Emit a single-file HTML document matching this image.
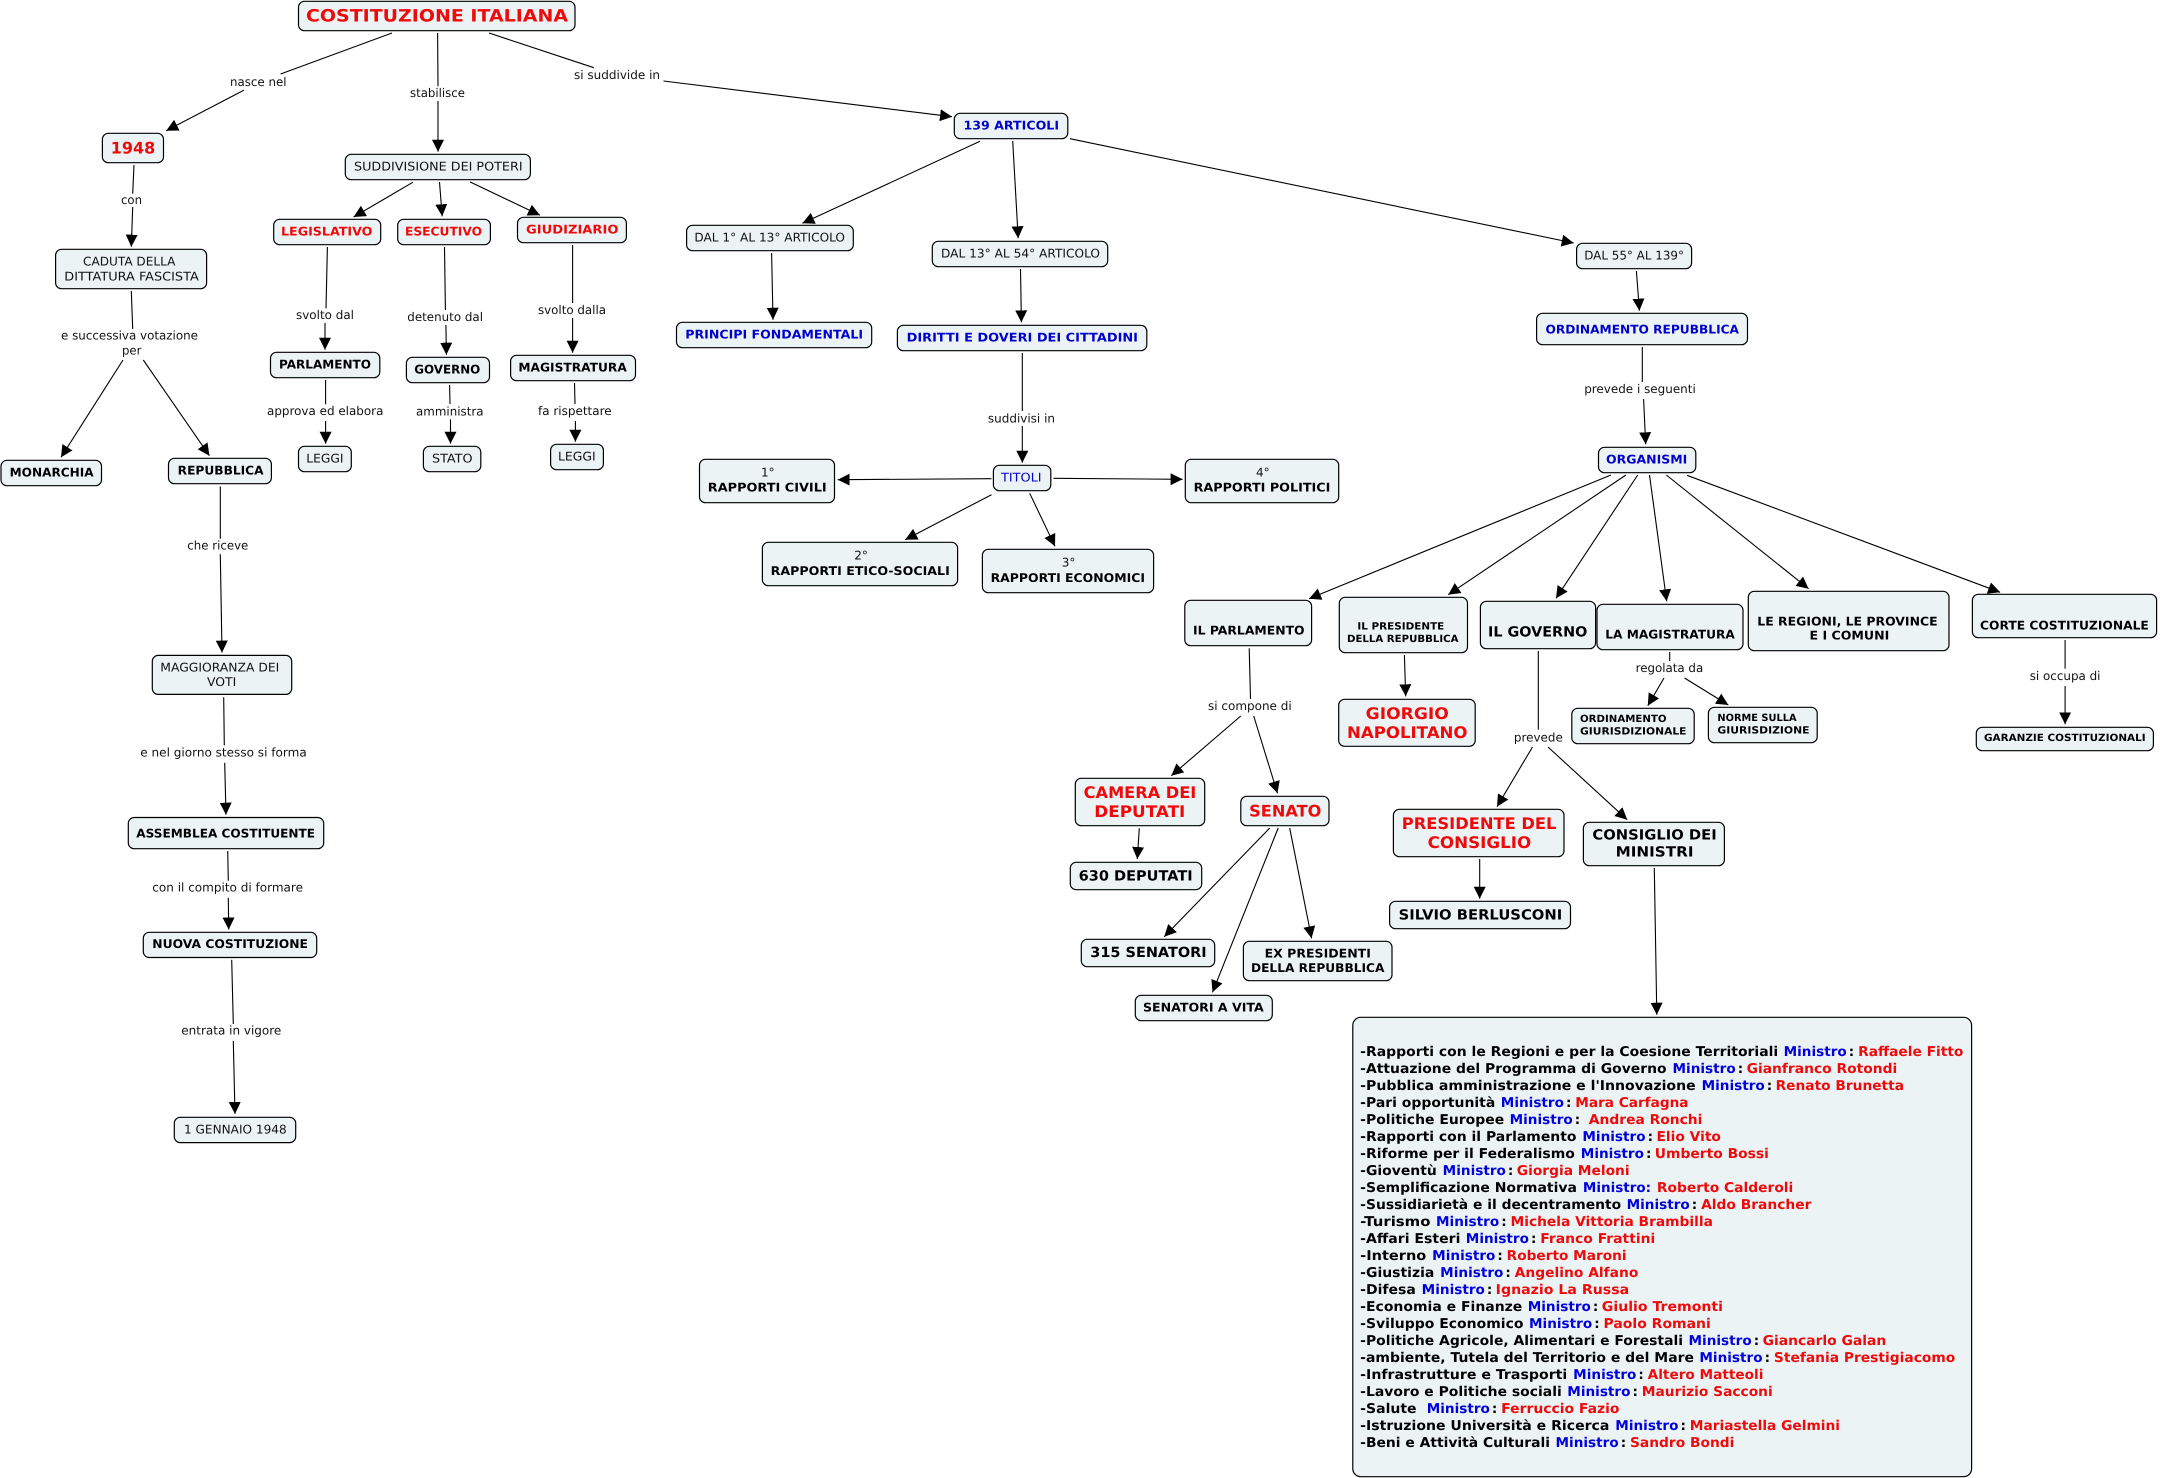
<!DOCTYPE html>
<html lang="it"><head><meta charset="utf-8"><title>Costituzione Italiana</title>
<style>
html,body{margin:0;padding:0;background:#fff}
svg{display:block}
text{font-family:"DejaVu Sans","Liberation Sans",sans-serif;dominant-baseline:central;fill:#111;text-rendering:geometricPrecision}
.r{font-size:12px}.b{font-size:12px;font-weight:bold;fill:#000}
.s{font-size:10px;font-weight:bold;fill:#000}.m{font-size:14px;font-weight:bold;fill:#000}
.l{font-size:16px;font-weight:bold;fill:#000}.t{font-size:17px;font-weight:bold}
.R{fill:#ee0a0a}.B{fill:#0000cc}
.c,.k,.e{font-size:13.5px;font-weight:bold}
.c{fill:#000}.k{fill:#0000dd}.e{fill:#ee0a0a}
rect{fill:#ecf3f5;stroke:#000;stroke-width:1.2}
line{stroke:#000;stroke-width:1.1}
line.a{marker-end:url(#h)}
</style></head><body>
<svg width="2160" height="1478" viewBox="0 0 2160 1478" xmlns="http://www.w3.org/2000/svg">
<defs><marker id="h" markerUnits="userSpaceOnUse" markerWidth="14" markerHeight="14" refX="12" refY="7" orient="auto"><path d="M0,1 L12,7 L0,13 Z" fill="#000"/></marker></defs>

<g>
<line x1="392" y1="33" x2="280.6" y2="74"/><line class="a" x1="243.8" y1="90.3" x2="166.2" y2="130.7"/>
<line x1="437.6" y1="33" x2="438" y2="86.3"/><line class="a" x1="438" y1="101" x2="438" y2="151.7"/>
<line x1="489" y1="33" x2="593.8" y2="67.7"/><line class="a" x1="663.5" y1="81" x2="952" y2="116.7"/>
<line x1="134" y1="165" x2="132.7" y2="193.7"/><line class="a" x1="132.7" y1="207" x2="131.3" y2="246.7"/>
<line x1="131.3" y1="291" x2="132.7" y2="329"/>
<line class="a" x1="123" y1="360" x2="61" y2="457.3"/><line class="a" x1="143.3" y1="360" x2="209.4" y2="455.7"/>
<line class="a" x1="412.8" y1="182.3" x2="353.6" y2="217"/><line class="a" x1="439.5" y1="182" x2="442.2" y2="216.3"/><line class="a" x1="470.2" y1="182" x2="540" y2="215.3"/>
<line x1="327.4" y1="247" x2="326" y2="308.3"/><line class="a" x1="325" y1="323" x2="325" y2="349.7"/>
<line x1="444.5" y1="247" x2="445.4" y2="310"/><line class="a" x1="445.9" y1="325" x2="446.4" y2="354.7"/>
<line x1="572.6" y1="245" x2="572.6" y2="303"/><line class="a" x1="572.6" y1="318" x2="572.6" y2="352.7"/>
<line x1="325.6" y1="380" x2="325.6" y2="404.3"/><line class="a" x1="325.6" y1="421" x2="325.6" y2="443.7"/>
<line x1="449.6" y1="385" x2="450" y2="404"/><line class="a" x1="450.5" y1="419.3" x2="450.5" y2="443.7"/>
<line x1="574.5" y1="383" x2="575" y2="404"/><line class="a" x1="575.4" y1="421" x2="575.4" y2="441.7"/>
<line class="a" x1="980" y1="141.3" x2="802.4" y2="223.3"/><line class="a" x1="1012.7" y1="141" x2="1018.2" y2="238.3"/><line class="a" x1="1070" y1="138.7" x2="1573.7" y2="243"/>
<line class="a" x1="771.6" y1="253" x2="773" y2="319.7"/><line class="a" x1="1020.5" y1="269" x2="1021.4" y2="322.3"/>
<line x1="1022.3" y1="353" x2="1022.3" y2="411"/><line class="a" x1="1022.3" y1="426" x2="1022.3" y2="462.7"/>
<line class="a" x1="991.5" y1="478.7" x2="837.7" y2="479.7"/><line class="a" x1="1053.5" y1="478.3" x2="1182.6" y2="479.3"/>
<line class="a" x1="991.5" y1="494.7" x2="905.2" y2="539.7"/><line class="a" x1="1029.7" y1="493.3" x2="1055" y2="546.3"/>
<line class="a" x1="1636.4" y1="271" x2="1639.4" y2="310.7"/>
<line x1="1642.3" y1="347" x2="1642.3" y2="382"/><line class="a" x1="1643.6" y1="399" x2="1645.7" y2="444.3"/>
<line class="a" x1="1611" y1="475" x2="1309" y2="598.7"/><line class="a" x1="1625.9" y1="475" x2="1448.2" y2="594.7"/>
<line class="a" x1="1637.7" y1="475" x2="1556" y2="598.3"/><line class="a" x1="1649.5" y1="475" x2="1666.7" y2="601.3"/>
<line class="a" x1="1666.3" y1="475" x2="1808.6" y2="588.7"/><line class="a" x1="1687" y1="475.3" x2="2000.1" y2="592.3"/>
<line x1="1249.2" y1="648.3" x2="1250.5" y2="699"/><line class="a" x1="1240.8" y1="716" x2="1171.3" y2="775.7"/><line class="a" x1="1253.7" y1="716" x2="1277.5" y2="793.3"/>
<line class="a" x1="1404.4" y1="655" x2="1405.7" y2="696.3"/>
<line x1="1538.3" y1="651" x2="1538.3" y2="729.7"/><line class="a" x1="1532.5" y1="747" x2="1497" y2="806.7"/><line class="a" x1="1548" y1="747" x2="1627.2" y2="819.7"/>
<line x1="1669.7" y1="652" x2="1669.7" y2="661"/><line class="a" x1="1664" y1="678" x2="1647.8" y2="705.7"/><line class="a" x1="1684.5" y1="678" x2="1728.3" y2="705"/>
<line x1="2065.1" y1="640" x2="2065.1" y2="668.7"/><line class="a" x1="2065.1" y1="686" x2="2065.1" y2="724.3"/>
<line class="a" x1="1479.7" y1="859" x2="1479.7" y2="898.7"/><line class="a" x1="1654.3" y1="868" x2="1656.8" y2="1014.7"/>
<line class="a" x1="1139.3" y1="828.3" x2="1137.3" y2="859"/>
<line class="a" x1="1269.8" y1="828" x2="1164.2" y2="936.7"/><line class="a" x1="1278.2" y1="828" x2="1212.5" y2="992.3"/><line class="a" x1="1289.7" y1="828" x2="1311.6" y2="938.3"/>
<line x1="220.3" y1="486.4" x2="220.3" y2="538.7"/><line class="a" x1="220.3" y1="554.3" x2="222" y2="652.6"/>
<line x1="223.7" y1="697.2" x2="224.3" y2="745.4"/><line class="a" x1="224.7" y1="762.8" x2="226" y2="814.7"/>
<line x1="227.7" y1="851" x2="228.3" y2="880.8"/><line class="a" x1="228.3" y1="897.8" x2="228.7" y2="929.5"/>
<line x1="231.7" y1="959.8" x2="233.3" y2="1024"/><line class="a" x1="233.3" y1="1041" x2="235" y2="1114"/>
</g>

<g>
<rect x="298.5" y="1.3" width="276.5" height="29.4" rx="6"/>
<rect x="102.4" y="133.3" width="61.1" height="29.4" rx="6"/>
<rect x="345.3" y="154.3" width="185.1" height="25.4" rx="6"/>
<rect x="273.7" y="219.3" width="107" height="25.4" rx="6"/>
<rect x="397.7" y="219.3" width="92.7" height="25.4" rx="6"/>
<rect x="517.5" y="217.3" width="108.9" height="25.4" rx="6"/>
<rect x="55.6" y="249.3" width="151" height="39.4" rx="6"/>
<rect x="270.5" y="352.3" width="109.3" height="25.4" rx="6"/>
<rect x="406.4" y="357.3" width="83.1" height="25.4" rx="6"/>
<rect x="510.6" y="355.3" width="124.9" height="25.4" rx="6"/>
<rect x="298.5" y="446.3" width="52.8" height="25.4" rx="6"/>
<rect x="423.4" y="446.3" width="57.4" height="25.4" rx="6"/>
<rect x="550.6" y="444.3" width="52.8" height="25.4" rx="6"/>
<rect x="1" y="460.3" width="100.5" height="25.4" rx="6"/>
<rect x="168.5" y="458.3" width="102.9" height="25.4" rx="6"/>
<rect x="152.3" y="655.4" width="139.4" height="39" rx="6"/>
<rect x="128.3" y="817.5" width="195.4" height="31.2" rx="6"/>
<rect x="143.3" y="932.3" width="173.4" height="25.2" rx="6"/>
<rect x="174.3" y="1117.3" width="121.4" height="25.3" rx="6"/>
<rect x="954.3" y="113.3" width="113.5" height="25.4" rx="6"/>
<rect x="686.6" y="225.3" width="166.7" height="25.4" rx="6"/>
<rect x="932.3" y="241.3" width="175.4" height="25.4" rx="6"/>
<rect x="1576.6" y="243.3" width="115" height="25.4" rx="6"/>
<rect x="676.5" y="322.3" width="195.2" height="25.4" rx="6"/>
<rect x="897.4" y="325.3" width="249.4" height="25.4" rx="6"/>
<rect x="1536.6" y="313.3" width="210.9" height="31.4" rx="6"/>
<rect x="993.4" y="465.3" width="57.4" height="25.4" rx="6"/>
<rect x="1598.5" y="447.3" width="97.3" height="25.4" rx="6"/>
<rect x="699.5" y="459.3" width="135" height="43.4" rx="6"/>
<rect x="1185.3" y="459.3" width="153.4" height="43.4" rx="6"/>
<rect x="762.4" y="542.3" width="195.2" height="43.4" rx="6"/>
<rect x="982.4" y="549.3" width="171.2" height="43.4" rx="6"/>
<rect x="1184.8" y="600.3" width="126.8" height="45.4" rx="6"/>
<rect x="1339.3" y="597.3" width="128.2" height="55.4" rx="6"/>
<rect x="1480.4" y="601.3" width="115.2" height="47.4" rx="6"/>
<rect x="1597" y="604.3" width="146" height="45.4" rx="6"/>
<rect x="1748.3" y="591.3" width="200.7" height="59.4" rx="6"/>
<rect x="1972.4" y="594.3" width="184.2" height="43.4" rx="6"/>
<rect x="1338.7" y="699.3" width="136.5" height="47" rx="6"/>
<rect x="1571.8" y="708.3" width="122.4" height="35.4" rx="6"/>
<rect x="1708.4" y="707.3" width="108.8" height="35.4" rx="6"/>
<rect x="1976.3" y="727.3" width="177.1" height="23.4" rx="6"/>
<rect x="1240.8" y="796.3" width="88.2" height="29.4" rx="6"/>
<rect x="1075.3" y="778.3" width="129.4" height="47.4" rx="6"/>
<rect x="1070.3" y="862.3" width="131.4" height="27.4" rx="6"/>
<rect x="1393.4" y="809.3" width="170.6" height="47.4" rx="6"/>
<rect x="1583.4" y="822.3" width="141" height="43.4" rx="6"/>
<rect x="1389.6" y="901.3" width="180.9" height="27.4" rx="6"/>
<rect x="1243.4" y="941.3" width="148.6" height="39.4" rx="6"/>
<rect x="1081.3" y="939.3" width="133.4" height="27.4" rx="6"/>
<rect x="1135.3" y="995.3" width="137" height="25.4" rx="6"/>
<rect x="1352.8" y="1017.3" width="618.8" height="459.4" rx="8"/>
</g>

<g>
<text class="t R" x="306" y="16.7" textLength="262" lengthAdjust="spacingAndGlyphs">COSTITUZIONE ITALIANA</text>
<text class="l R" x="110.7" y="148" textLength="44.5" lengthAdjust="spacingAndGlyphs">1948</text>
<text class="r" x="354" y="166.7" textLength="168.6" lengthAdjust="spacingAndGlyphs">SUDDIVISIONE DEI POTERI</text>
<text class="b R" x="281" y="231.7" textLength="91.4" lengthAdjust="spacingAndGlyphs">LEGISLATIVO</text>
<text class="b R" x="405" y="231.7" textLength="77" lengthAdjust="spacingAndGlyphs">ESECUTIVO</text>
<text class="b R" x="526" y="229.7" textLength="92.5" lengthAdjust="spacingAndGlyphs">GIUDIZIARIO</text>
<text class="r" x="83" y="261.7" textLength="92.4" lengthAdjust="spacingAndGlyphs">CADUTA DELLA</text>
<text class="r" x="64.3" y="276.3" textLength="134.5" lengthAdjust="spacingAndGlyphs">DITTATURA FASCISTA</text>
<text class="b" x="279" y="364.7" textLength="92" lengthAdjust="spacingAndGlyphs">PARLAMENTO</text>
<text class="b" x="414.2" y="369.7" textLength="66.1" lengthAdjust="spacingAndGlyphs">GOVERNO</text>
<text class="b" x="518.4" y="367.7" textLength="108.4" lengthAdjust="spacingAndGlyphs">MAGISTRATURA</text>
<text class="r" x="306.3" y="458.7" textLength="37.2" lengthAdjust="spacingAndGlyphs">LEGGI</text>
<text class="r" x="432" y="458.7" textLength="40.5" lengthAdjust="spacingAndGlyphs">STATO</text>
<text class="r" x="558" y="456.7" textLength="37.6" lengthAdjust="spacingAndGlyphs">LEGGI</text>
<text class="b" x="9.6" y="472.7" textLength="84.1" lengthAdjust="spacingAndGlyphs">MONARCHIA</text>
<text class="b" x="177.7" y="470.7" textLength="85.9" lengthAdjust="spacingAndGlyphs">REPUBBLICA</text>
<text class="r" x="160.3" y="667.3" textLength="119" lengthAdjust="spacingAndGlyphs">MAGGIORANZA DEI</text>
<text class="r" x="207" y="682" textLength="29.3" lengthAdjust="spacingAndGlyphs">VOTI</text>
<text class="b" x="136.3" y="833.5" textLength="178.7" lengthAdjust="spacingAndGlyphs">ASSEMBLEA COSTITUENTE</text>
<text class="b" x="152.3" y="944.2" textLength="155.7" lengthAdjust="spacingAndGlyphs">NUOVA COSTITUZIONE</text>
<text class="r" x="184" y="1129.3" textLength="102.7" lengthAdjust="spacingAndGlyphs">1 GENNAIO 1948</text>
<text class="b B" x="963.5" y="125.7" textLength="95.5" lengthAdjust="spacingAndGlyphs">139 ARTICOLI</text>
<text class="r" x="694.4" y="237.7" textLength="150.6" lengthAdjust="spacingAndGlyphs">DAL 1° AL 13° ARTICOLO</text>
<text class="r" x="941" y="253.7" textLength="159" lengthAdjust="spacingAndGlyphs">DAL 13° AL 54° ARTICOLO</text>
<text class="r" x="1584.2" y="255.7" textLength="99.8" lengthAdjust="spacingAndGlyphs">DAL 55° AL 139°</text>
<text class="b B" x="685.3" y="334.7" textLength="177.7" lengthAdjust="spacingAndGlyphs">PRINCIPI FONDAMENTALI</text>
<text class="b B" x="906.6" y="337.7" textLength="231.4" lengthAdjust="spacingAndGlyphs">DIRITTI E DOVERI DEI CITTADINI</text>
<text class="b B" x="1545.5" y="329.7" textLength="193.5" lengthAdjust="spacingAndGlyphs">ORDINAMENTO REPUBBLICA</text>
<text class="r B" x="1001" y="477.7" textLength="40.6" lengthAdjust="spacingAndGlyphs">TITOLI</text>
<text class="b B" x="1606" y="459.7" textLength="81.3" lengthAdjust="spacingAndGlyphs">ORGANISMI</text>
<text class="r" x="761" y="472.3">1°</text>
<text class="b" x="707.8" y="487.7" textLength="118.9" lengthAdjust="spacingAndGlyphs">RAPPORTI CIVILI</text>
<text class="r" x="1256" y="472.3">4°</text>
<text class="b" x="1193.6" y="487.7" textLength="136.8" lengthAdjust="spacingAndGlyphs">RAPPORTI POLITICI</text>
<text class="r" x="854.2" y="555.7">2°</text>
<text class="b" x="770.7" y="571" textLength="179.1" lengthAdjust="spacingAndGlyphs">RAPPORTI ETICO-SOCIALI</text>
<text class="r" x="1061.8" y="562.7">3°</text>
<text class="b" x="990.6" y="578" textLength="154.4" lengthAdjust="spacingAndGlyphs">RAPPORTI ECONOMICI</text>
<text class="b" x="1193" y="630.3" textLength="111.6" lengthAdjust="spacingAndGlyphs">IL PARLAMENTO</text>
<text class="s" x="1357.4" y="627" textLength="86.9" lengthAdjust="spacingAndGlyphs">IL PRESIDENTE</text>
<text class="s" x="1347" y="639.3" textLength="111.5" lengthAdjust="spacingAndGlyphs">DELLA REPUBBLICA</text>
<text class="m" x="1488" y="632.7" textLength="99.3" lengthAdjust="spacingAndGlyphs">IL GOVERNO</text>
<text class="b" x="1605.3" y="634.3" textLength="129.5" lengthAdjust="spacingAndGlyphs">LA MAGISTRATURA</text>
<text class="b" x="1757.3" y="621.3" textLength="180.3" lengthAdjust="spacingAndGlyphs">LE REGIONI, LE PROVINCE</text>
<text class="b" x="1809.5" y="635.7" textLength="79.8" lengthAdjust="spacingAndGlyphs">E I COMUNI</text>
<text class="b" x="1980" y="625.3" textLength="168.8" lengthAdjust="spacingAndGlyphs">CORTE COSTITUZIONALE</text>
<text class="l R" x="1365.7" y="713.3" textLength="83.1" lengthAdjust="spacingAndGlyphs">GIORGIO</text>
<text class="l R" x="1347" y="732.7" textLength="120.5" lengthAdjust="spacingAndGlyphs">NAPOLITANO</text>
<text class="s" x="1580" y="719.7" textLength="86.5" lengthAdjust="spacingAndGlyphs">ORDINAMENTO</text>
<text class="s" x="1580" y="732" textLength="106.5" lengthAdjust="spacingAndGlyphs">GIURISDIZIONALE</text>
<text class="s" x="1717.4" y="718.7" textLength="79.2" lengthAdjust="spacingAndGlyphs">NORME SULLA</text>
<text class="s" x="1717.4" y="731" textLength="92.1" lengthAdjust="spacingAndGlyphs">GIURISDIZIONE</text>
<text class="s" x="1984" y="738.7" textLength="161.6" lengthAdjust="spacingAndGlyphs">GARANZIE COSTITUZIONALI</text>
<text class="l R" x="1249.2" y="811" textLength="72.1" lengthAdjust="spacingAndGlyphs">SENATO</text>
<text class="l R" x="1083.7" y="792.3" textLength="112.6" lengthAdjust="spacingAndGlyphs">CAMERA DEI</text>
<text class="l R" x="1094.3" y="811.3" textLength="91" lengthAdjust="spacingAndGlyphs">DEPUTATI</text>
<text class="m" x="1078.7" y="876.3" textLength="114" lengthAdjust="spacingAndGlyphs">630 DEPUTATI</text>
<text class="l R" x="1401.8" y="823.3" textLength="154.6" lengthAdjust="spacingAndGlyphs">PRESIDENTE DEL</text>
<text class="l R" x="1427.6" y="842.7" textLength="103.6" lengthAdjust="spacingAndGlyphs">CONSIGLIO</text>
<text class="m" x="1592.4" y="835.3" textLength="124.3" lengthAdjust="spacingAndGlyphs">CONSIGLIO DEI</text>
<text class="m" x="1615.6" y="852.7" textLength="77.9" lengthAdjust="spacingAndGlyphs">MINISTRI</text>
<text class="m" x="1398.6" y="915.3" textLength="163.6" lengthAdjust="spacingAndGlyphs">SILVIO BERLUSCONI</text>
<text class="b" x="1264.6" y="953.7" textLength="106.3" lengthAdjust="spacingAndGlyphs">EX PRESIDENTI</text>
<text class="b" x="1251" y="968" textLength="133.4" lengthAdjust="spacingAndGlyphs">DELLA REPUBBLICA</text>
<text class="m" x="1090.3" y="953" textLength="116.4" lengthAdjust="spacingAndGlyphs">315 SENATORI</text>
<text class="b" x="1143" y="1007.7" textLength="120.7" lengthAdjust="spacingAndGlyphs">SENATORI A VITA</text>
</g>

<g>
<text class="r" x="230" y="82" textLength="56.5" lengthAdjust="spacingAndGlyphs">nasce nel</text>
<text class="r" x="410" y="93" textLength="55" lengthAdjust="spacingAndGlyphs">stabilisce</text>
<text class="r" x="574" y="75" textLength="86" lengthAdjust="spacingAndGlyphs">si suddivide in</text>
<text class="r" x="121" y="200" textLength="21" lengthAdjust="spacingAndGlyphs">con</text>
<text class="r" x="61" y="335.7" textLength="137" lengthAdjust="spacingAndGlyphs">e successiva votazione</text>
<text class="r" x="122" y="350.7" textLength="19.4" lengthAdjust="spacingAndGlyphs">per</text>
<text class="r" x="296" y="315" textLength="58" lengthAdjust="spacingAndGlyphs">svolto dal</text>
<text class="r" x="407.3" y="317" textLength="75.7" lengthAdjust="spacingAndGlyphs">detenuto dal</text>
<text class="r" x="538" y="310" textLength="68" lengthAdjust="spacingAndGlyphs">svolto dalla</text>
<text class="r" x="267" y="411" textLength="116.4" lengthAdjust="spacingAndGlyphs">approva ed elabora</text>
<text class="r" x="416" y="411.7" textLength="67.5" lengthAdjust="spacingAndGlyphs">amministra</text>
<text class="r" x="538" y="411" textLength="73.6" lengthAdjust="spacingAndGlyphs">fa rispettare</text>
<text class="r" x="187.3" y="545.6" textLength="61" lengthAdjust="spacingAndGlyphs">che riceve</text>
<text class="r" x="140.3" y="752.7" textLength="166.4" lengthAdjust="spacingAndGlyphs">e nel giorno stesso si forma</text>
<text class="r" x="152.3" y="887.7" textLength="150.7" lengthAdjust="spacingAndGlyphs">con il compito di formare</text>
<text class="r" x="181.3" y="1030.5" textLength="100" lengthAdjust="spacingAndGlyphs">entrata in vigore</text>
<text class="r" x="987.9" y="418.3" textLength="67.1" lengthAdjust="spacingAndGlyphs">suddivisi in</text>
<text class="r" x="1584.2" y="389" textLength="111.6" lengthAdjust="spacingAndGlyphs">prevede i seguenti</text>
<text class="r" x="1208" y="706" textLength="83.7" lengthAdjust="spacingAndGlyphs">si compone di</text>
<text class="r" x="1635.6" y="668" textLength="67.6" lengthAdjust="spacingAndGlyphs">regolata da</text>
<text class="r" x="2029.7" y="676" textLength="70.8" lengthAdjust="spacingAndGlyphs">si occupa di</text>
<text class="r" x="1513.9" y="737.3" textLength="48.9" lengthAdjust="spacingAndGlyphs">prevede</text>
</g>

<g>
<text class="c" x="1360.2" y="1052" textLength="418" lengthAdjust="spacingAndGlyphs">-Rapporti con le Regioni e per la Coesione Territoriali</text><text class="k" x="1783.6" y="1052" textLength="63.2" lengthAdjust="spacingAndGlyphs">Ministro</text><text class="c" x="1848.8" y="1052">:</text><text class="e" x="1858.1" y="1052" textLength="105.3" lengthAdjust="spacingAndGlyphs">Raffaele Fitto</text>
<text class="c" x="1360.2" y="1069" textLength="306.4" lengthAdjust="spacingAndGlyphs">-Attuazione del Programma di Governo</text><text class="k" x="1672.5" y="1069" textLength="63.2" lengthAdjust="spacingAndGlyphs">Ministro</text><text class="c" x="1737.7" y="1069">:</text><text class="e" x="1746.6" y="1069" textLength="150.7" lengthAdjust="spacingAndGlyphs">Gianfranco Rotondi</text>
<text class="c" x="1360.2" y="1086" textLength="335.5" lengthAdjust="spacingAndGlyphs">-Pubblica amministrazione e l'Innovazione</text><text class="k" x="1701.6" y="1086" textLength="63.2" lengthAdjust="spacingAndGlyphs">Ministro</text><text class="c" x="1766.8" y="1086">:</text><text class="e" x="1775.6" y="1086" textLength="128.4" lengthAdjust="spacingAndGlyphs">Renato Brunetta</text>
<text class="c" x="1360.2" y="1103" textLength="135.1" lengthAdjust="spacingAndGlyphs">-Pari opportunità</text><text class="k" x="1500.8" y="1103" textLength="63.2" lengthAdjust="spacingAndGlyphs">Ministro</text><text class="c" x="1566" y="1103">:</text><text class="e" x="1575.3" y="1103" textLength="113.2" lengthAdjust="spacingAndGlyphs">Mara Carfagna</text>
<text class="c" x="1360.2" y="1120" textLength="144" lengthAdjust="spacingAndGlyphs">-Politiche Europee</text><text class="k" x="1509.6" y="1120" textLength="63.2" lengthAdjust="spacingAndGlyphs">Ministro</text><text class="c" x="1574.8" y="1120">:</text><text class="e" x="1588.8" y="1120" textLength="113.6" lengthAdjust="spacingAndGlyphs">Andrea Ronchi</text>
<text class="c" x="1360.2" y="1137" textLength="216.3" lengthAdjust="spacingAndGlyphs">-Rapporti con il Parlamento</text><text class="k" x="1582.4" y="1137" textLength="63.2" lengthAdjust="spacingAndGlyphs">Ministro</text><text class="c" x="1647.6" y="1137">:</text><text class="e" x="1656.5" y="1137" textLength="64.4" lengthAdjust="spacingAndGlyphs">Elio Vito</text>
<text class="c" x="1360.2" y="1154" textLength="214.7" lengthAdjust="spacingAndGlyphs">-Riforme per il Federalismo</text><text class="k" x="1580.8" y="1154" textLength="63.2" lengthAdjust="spacingAndGlyphs">Ministro</text><text class="c" x="1646" y="1154">:</text><text class="e" x="1654.8" y="1154" textLength="114.1" lengthAdjust="spacingAndGlyphs">Umberto Bossi</text>
<text class="c" x="1360.2" y="1171" textLength="76.6" lengthAdjust="spacingAndGlyphs">-Gioventù</text><text class="k" x="1442.7" y="1171" textLength="63.2" lengthAdjust="spacingAndGlyphs">Ministro</text><text class="c" x="1507.9" y="1171">:</text><text class="e" x="1516.8" y="1171" textLength="112.8" lengthAdjust="spacingAndGlyphs">Giorgia Meloni</text>
<text class="c" x="1360.2" y="1188" textLength="216.8" lengthAdjust="spacingAndGlyphs">-Semplificazione Normativa</text><text class="k" x="1582.9" y="1188" textLength="68.2" lengthAdjust="spacingAndGlyphs">Ministro:</text><text class="e" x="1656.9" y="1188" textLength="136.4" lengthAdjust="spacingAndGlyphs">Roberto Calderoli</text>
<text class="c" x="1360.2" y="1205" textLength="261" lengthAdjust="spacingAndGlyphs">-Sussidiarietà e il decentramento</text><text class="k" x="1626.6" y="1205" textLength="63.2" lengthAdjust="spacingAndGlyphs">Ministro</text><text class="c" x="1691.8" y="1205">:</text><text class="e" x="1701.1" y="1205" textLength="110.3" lengthAdjust="spacingAndGlyphs">Aldo Brancher</text>
<text class="c" x="1360.2" y="1222" textLength="70.3" lengthAdjust="spacingAndGlyphs">-Turismo</text><text class="k" x="1436" y="1222" textLength="63.2" lengthAdjust="spacingAndGlyphs">Ministro</text><text class="c" x="1501.2" y="1222">:</text><text class="e" x="1510.5" y="1222" textLength="202.4" lengthAdjust="spacingAndGlyphs">Michela Vittoria Brambilla</text>
<text class="c" x="1360.2" y="1239" textLength="100.2" lengthAdjust="spacingAndGlyphs">-Affari Esteri</text><text class="k" x="1465.8" y="1239" textLength="63.2" lengthAdjust="spacingAndGlyphs">Ministro</text><text class="c" x="1531" y="1239">:</text><text class="e" x="1540.3" y="1239" textLength="115" lengthAdjust="spacingAndGlyphs">Franco Frattini</text>
<text class="c" x="1360.2" y="1256" textLength="66.1" lengthAdjust="spacingAndGlyphs">-Interno</text><text class="k" x="1432.2" y="1256" textLength="63.2" lengthAdjust="spacingAndGlyphs">Ministro</text><text class="c" x="1497.4" y="1256">:</text><text class="e" x="1506.7" y="1256" textLength="119.9" lengthAdjust="spacingAndGlyphs">Roberto Maroni</text>
<text class="c" x="1360.2" y="1273" textLength="74.1" lengthAdjust="spacingAndGlyphs">-Giustizia</text><text class="k" x="1440.2" y="1273" textLength="63.2" lengthAdjust="spacingAndGlyphs">Ministro</text><text class="c" x="1505.4" y="1273">:</text><text class="e" x="1514.7" y="1273" textLength="123.7" lengthAdjust="spacingAndGlyphs">Angelino Alfano</text>
<text class="c" x="1360.2" y="1290" textLength="55.6" lengthAdjust="spacingAndGlyphs">-Difesa</text><text class="k" x="1421.7" y="1290" textLength="63.2" lengthAdjust="spacingAndGlyphs">Ministro</text><text class="c" x="1486.9" y="1290">:</text><text class="e" x="1495.7" y="1290" textLength="133.5" lengthAdjust="spacingAndGlyphs">Ignazio La Russa</text>
<text class="c" x="1360.2" y="1307" textLength="162.1" lengthAdjust="spacingAndGlyphs">-Economia e Finanze</text><text class="k" x="1527.7" y="1307" textLength="63.2" lengthAdjust="spacingAndGlyphs">Ministro</text><text class="c" x="1592.9" y="1307">:</text><text class="e" x="1601.8" y="1307" textLength="121.2" lengthAdjust="spacingAndGlyphs">Giulio Tremonti</text>
<text class="c" x="1360.2" y="1324" textLength="163.3" lengthAdjust="spacingAndGlyphs">-Sviluppo Economico</text><text class="k" x="1529" y="1324" textLength="63.2" lengthAdjust="spacingAndGlyphs">Ministro</text><text class="c" x="1594.2" y="1324">:</text><text class="e" x="1603.5" y="1324" textLength="107.3" lengthAdjust="spacingAndGlyphs">Paolo Romani</text>
<text class="c" x="1360.2" y="1341" textLength="322.8" lengthAdjust="spacingAndGlyphs">-Politiche Agricole, Alimentari e Forestali</text><text class="k" x="1688.5" y="1341" textLength="63.2" lengthAdjust="spacingAndGlyphs">Ministro</text><text class="c" x="1753.7" y="1341">:</text><text class="e" x="1762.6" y="1341" textLength="123.7" lengthAdjust="spacingAndGlyphs">Giancarlo Galan</text>
<text class="c" x="1360.2" y="1358" textLength="333.8" lengthAdjust="spacingAndGlyphs">-ambiente, Tutela del Territorio e del Mare</text><text class="k" x="1699.4" y="1358" textLength="63.2" lengthAdjust="spacingAndGlyphs">Ministro</text><text class="c" x="1764.6" y="1358">:</text><text class="e" x="1773.9" y="1358" textLength="181.4" lengthAdjust="spacingAndGlyphs">Stefania Prestigiacomo</text>
<text class="c" x="1360.2" y="1375" textLength="207.1" lengthAdjust="spacingAndGlyphs">-Infrastrutture e Trasporti</text><text class="k" x="1573.2" y="1375" textLength="63.2" lengthAdjust="spacingAndGlyphs">Ministro</text><text class="c" x="1638.4" y="1375">:</text><text class="e" x="1647.7" y="1375" textLength="115.7" lengthAdjust="spacingAndGlyphs">Altero Matteoli</text>
<text class="c" x="1360.2" y="1392" textLength="201.6" lengthAdjust="spacingAndGlyphs">-Lavoro e Politiche sociali</text><text class="k" x="1567.3" y="1392" textLength="63.2" lengthAdjust="spacingAndGlyphs">Ministro</text><text class="c" x="1632.5" y="1392">:</text><text class="e" x="1641.8" y="1392" textLength="130.9" lengthAdjust="spacingAndGlyphs">Maurizio Sacconi</text>
<text class="c" x="1360.2" y="1409" textLength="56.4" lengthAdjust="spacingAndGlyphs">-Salute</text><text class="k" x="1426.7" y="1409" textLength="63.2" lengthAdjust="spacingAndGlyphs">Ministro</text><text class="c" x="1491.9" y="1409">:</text><text class="e" x="1501.2" y="1409" textLength="118.3" lengthAdjust="spacingAndGlyphs">Ferruccio Fazio</text>
<text class="c" x="1360.2" y="1426" textLength="249.2" lengthAdjust="spacingAndGlyphs">-Istruzione Università e Ricerca</text><text class="k" x="1615.3" y="1426" textLength="63.2" lengthAdjust="spacingAndGlyphs">Ministro</text><text class="c" x="1680.5" y="1426">:</text><text class="e" x="1689.8" y="1426" textLength="150.2" lengthAdjust="spacingAndGlyphs">Mariastella Gelmini</text>
<text class="c" x="1360.2" y="1443" textLength="189.8" lengthAdjust="spacingAndGlyphs">-Beni e Attività Culturali</text><text class="k" x="1555.5" y="1443" textLength="63.2" lengthAdjust="spacingAndGlyphs">Ministro</text><text class="c" x="1620.7" y="1443">:</text><text class="e" x="1630" y="1443" textLength="104.4" lengthAdjust="spacingAndGlyphs">Sandro Bondi</text>
</g>
</svg>
</body></html>
